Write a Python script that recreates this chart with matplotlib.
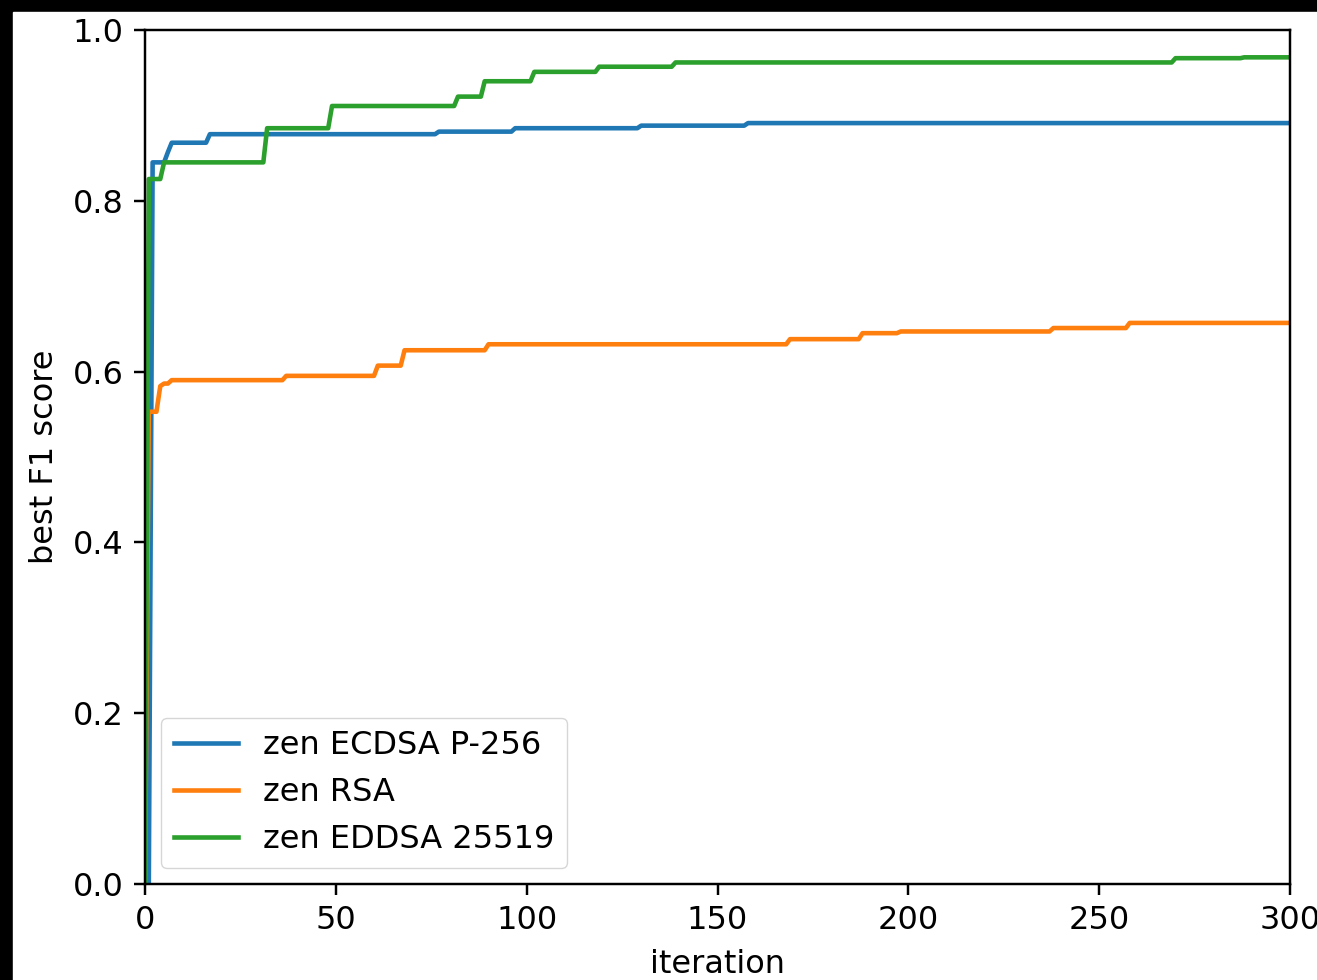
import matplotlib.pyplot as plt
from matplotlib.patches import Rectangle

# best F1 score per iteration, stored as the iterations where the best score
# improved and the new best value (the score is 0 before the first record)
N_ITER = 300

ecdsa_iter = [2, 6, 7, 17, 77, 97, 130, 158]
ecdsa_best = [0.845, 0.857, 0.868, 0.878, 0.881, 0.885, 0.888, 0.891]

rsa_iter = [1, 4, 5, 7, 37, 61, 68, 90, 169, 188, 198, 238, 258]
rsa_best = [0.553, 0.583, 0.586, 0.590, 0.595, 0.607, 0.625, 0.632,
            0.638, 0.645, 0.647, 0.651, 0.657]

eddsa_iter = [1, 5, 32, 49, 82, 89, 102, 119, 139, 270, 288]
eddsa_best = [0.8255, 0.845, 0.885, 0.911, 0.922, 0.940, 0.951, 0.957,
              0.962, 0.967, 0.968]

labels = ["zen ECDSA P-256", "zen RSA", "zen EDDSA 25519"]

S = 2.2  # scale of the default style
plt.rcParams.update({
    "font.size": 23,
    "lines.linewidth": 1.5 * S,
    "axes.linewidth": 0.8 * S,
    "xtick.major.size": 3.5 * S,
    "ytick.major.size": 3.5 * S,
    "xtick.major.width": 0.8 * S,
    "ytick.major.width": 0.8 * S,
    "xtick.major.pad": 3.5 * S,
    "ytick.major.pad": 3.5 * S,
    "axes.labelpad": 4.0 * S,
})


def best_so_far_curve(iters, best, n_iter):
    # points of the per-iteration curve where its slope changes
    xs, ys = [0], [0.0]
    for k, v in zip(iters, best):
        if k - 1 > xs[-1]:
            xs.append(k - 1)
            ys.append(ys[-1])
        xs.append(k)
        ys.append(v)
    xs.append(n_iter)
    ys.append(ys[-1])
    return xs, ys


fig = plt.figure(figsize=(13.17, 9.8), dpi=100, facecolor="black")
# the reference is a screenshot with a black margin on top and left
fig.add_artist(Rectangle((13 / 1317, 0), 1, 1 - 12 / 980,
                         transform=fig.transFigure, color="white", zorder=-1))
ax = fig.add_axes([145 / 1317, 96 / 980, 1145 / 1317, 854 / 980])

for iters, best, label in zip([ecdsa_iter, rsa_iter, eddsa_iter],
                              [ecdsa_best, rsa_best, eddsa_best], labels):
    xs, ys = best_so_far_curve(iters, best, N_ITER)
    ax.plot(xs, ys, label=label)

ax.set_xlim(0, N_ITER)
ax.set_ylim(0, 1.0)
ax.set_xlabel("iteration")
ax.set_ylabel("best F1 score")
ax.legend(loc="lower left")

fig.savefig("out.png", dpi=100, facecolor=fig.get_facecolor())
